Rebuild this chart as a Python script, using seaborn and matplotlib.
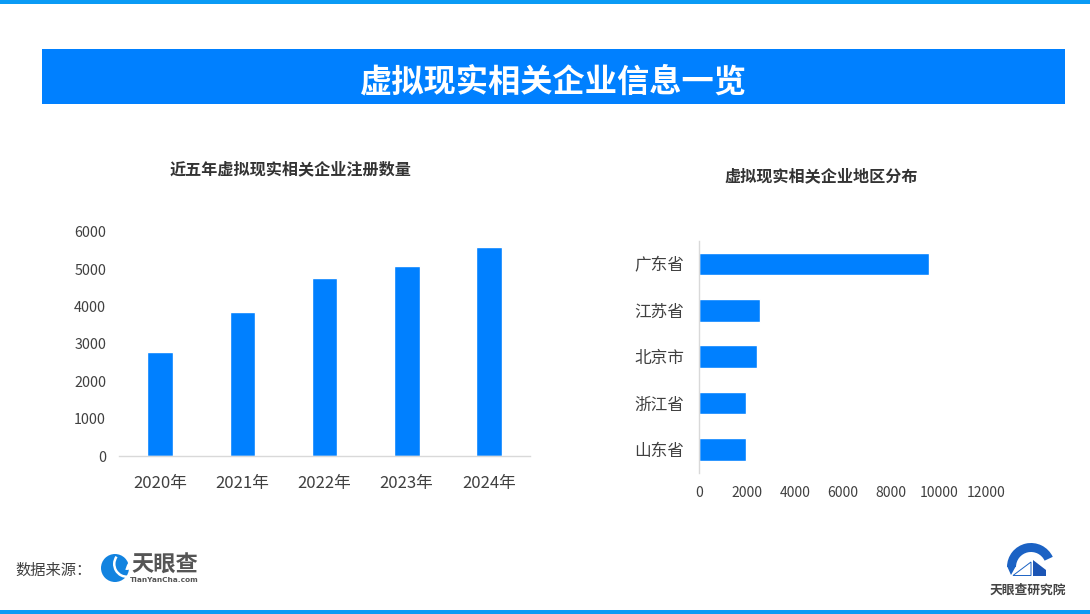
import matplotlib
matplotlib.use("Agg")
import matplotlib.pyplot as plt
from matplotlib.patches import Circle, Polygon, Rectangle, Wedge
import pandas as pd
import seaborn as sns

years = ["2020年", "2021年", "2022年", "2023年", "2024年"]
year_counts = [2770, 3865, 4750, 5095, 5580]
regions = ["广东省", "江苏省", "北京市", "浙江省", "山东省"]
region_counts = [9595, 2535, 2410, 1965, 1960]
year_ticks = [0, 1000, 2000, 3000, 4000, 5000, 6000]
region_ticks = [0, 2000, 4000, 6000, 8000, 10000, 12000]

BLUE = "#0080FF"
TEXT = "#404040"
W, H = 1090, 614

sns.set_theme(style="white")
plt.rcParams["font.family"] = ["Noto Sans CJK SC", "DejaVu Sans"]

fig = plt.figure(figsize=(W / 100, H / 100), dpi=100, facecolor="white")


def axes_px(left, top, right, bottom):
    return fig.add_axes([left / W, 1 - bottom / H, (right - left) / W, (bottom - top) / H])


# background layer in pixel coordinates: bands, banner, logos
bg = fig.add_axes([0, 0, 1, 1])
bg.set_xlim(0, W)
bg.set_ylim(H, 0)
bg.axis("off")
bg.add_patch(Rectangle((0, 0), W, 4, color="#0A9BF5", lw=0))
bg.add_patch(Rectangle((0, 610), W, 4, color="#0A9BF5", lw=0))
bg.add_patch(Rectangle((42, 49), 1023, 55, color=BLUE, lw=0))
bg.text(553, 82.5, "虚拟现实相关企业信息一览", color="white", fontsize=23.2,
        fontweight="bold", ha="center", va="center")
bg.text(291, 169.5, "近五年虚拟现实相关企业注册数量", color="#333333", fontsize=11.6,
        fontweight="bold", ha="center", va="center")
bg.text(821, 176, "虚拟现实相关企业地区分布", color="#333333", fontsize=11.6,
        fontweight="bold", ha="center", va="center")
bg.text(15, 570, "数据来源：", color=TEXT, fontsize=11, ha="left", va="center")

# left logo (y axis is flipped here, so wedge angles run clockwise on screen)
bg.add_patch(Circle((115, 568), 14, color="#1283E0", lw=0))
bg.add_patch(Wedge((127, 564), 14, 85, 215, width=2.5, color="white", lw=0))
bg.add_patch(Wedge((127, 565), 5, 300, 110, color="white", lw=0))
bg.text(164.5, 565, "天眼查", color="#555555", fontsize=16, fontweight="bold",
        ha="center", va="center")
bg.text(164.5, 580.5, "TianYanCha.com", color="#555555", fontsize=5.3, fontweight="bold",
        ha="center", va="center", family="DejaVu Sans")

# right logo
bg.add_patch(Wedge((1031, 567), 24, 180, 335, width=9, color="#1B62C4", lw=0))
bg.add_patch(Polygon([(1007, 566), (1016, 566), (1011, 575)], color="#1B62C4", lw=0))
bg.add_patch(Polygon([(1033, 560), (1046, 570), (1046, 576), (1033, 576)], color="#1B55B5", lw=0))
bg.add_patch(Polygon([(1013, 575.5), (1031, 562), (1031, 575.5)], fc="white", ec="#1B62C4", lw=0.7))
bg.text(1027.5, 590.5, "天眼查研究院", color="#444444", fontsize=9.2, fontweight="bold",
        ha="center", va="center")

# left chart
df_years = pd.DataFrame({"year": years, "count": year_counts})
ax1 = axes_px(119.3, 231.7, 529.8, 456)
ax1.patch.set_alpha(0)
sns.barplot(data=df_years, x="year", y="count", color=BLUE, saturation=1, width=0.315, ax=ax1)
ax1.set_xlim(-0.5, 4.5)
ax1.set_ylim(0, 6000)
ax1.set_yticks(year_ticks)
ax1.set_xlabel("")
ax1.set_ylabel("")
ax1.tick_params(axis="x", length=0, pad=14, labelsize=12, labelcolor=TEXT)
ax1.tick_params(axis="y", length=0, pad=9.5, labelsize=10.3, labelcolor=TEXT)
sns.despine(ax=ax1, left=True)
ax1.spines["bottom"].set_color("#D9D9D9")
ax1.spines["bottom"].set_linewidth(1)

# right chart
df_regions = pd.DataFrame({"region": regions, "count": region_counts})
ax2 = axes_px(699.3, 241, 986.5, 472.5)
ax2.patch.set_alpha(0)
sns.barplot(data=df_regions, y="region", x="count", color=BLUE, saturation=1, width=0.49, ax=ax2)
ax2.set_xlim(0, 12000)
ax2.set_ylim(4.5, -0.5)
ax2.set_xticks(region_ticks)
ax2.set_xlabel("")
ax2.set_ylabel("")
ax2.tick_params(axis="y", length=0, pad=11, labelsize=12, labelcolor=TEXT)
ax2.tick_params(axis="x", length=0, pad=9.5, labelsize=10, labelcolor=TEXT)
sns.despine(ax=ax2, bottom=True)
ax2.spines["left"].set_color("#D9D9D9")
ax2.spines["left"].set_linewidth(1)

fig.savefig("out.png", dpi=100)
